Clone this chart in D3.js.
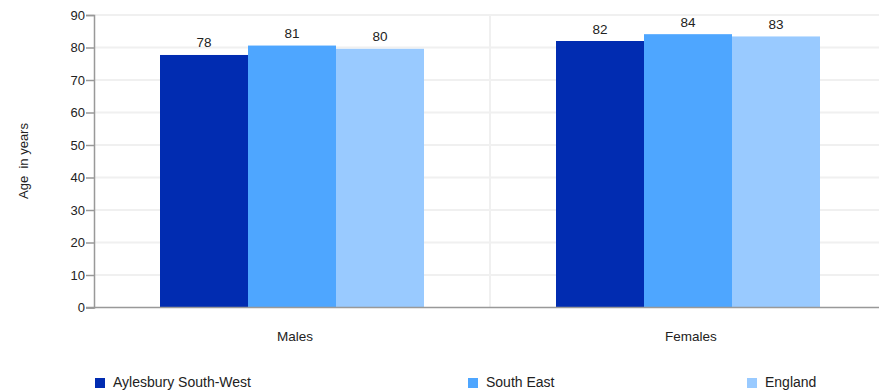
<!DOCTYPE html>
<html><head><meta charset="utf-8">
<script src="https://cdn.jsdelivr.net/npm/d3@7"></script>
<style>body{margin:0;background:#fff;}svg{display:block;font-family:"Liberation Sans",Arial,sans-serif;}</style>
</head><body><svg id="c" width="879" height="392"></svg>
<script>
const categories = ["Males", "Females"];
const seriesNames = ["Aylesbury South-West", "South East", "England"];
const seriesColors = ["#012cb1", "#4ea6ff", "#99caff"];
const aylesbury = [77.7, 82.0];
const southEast = [80.6, 84.1];
const england = [79.6, 83.4];
const yTicks = [0, 10, 20, 30, 40, 50, 60, 70, 80, 90];
const yTitle = "Age  in years";

(function () {
const series = [aylesbury, southEast, england];
const svg = d3.select("#c");
const pL = 94, pR = 886, pT = 15, pB = 307.5;

const x = d3.scaleBand().domain(categories).range([pL, pR]);
const xs = d3.scaleBand().domain(seriesNames).range([0, x.bandwidth()]).paddingInner(0).paddingOuter(0.75);
const y = d3.scaleLinear().domain([0, 90]).range([pB, pT]);

// gridlines
svg.append("g").selectAll("line").data(yTicks.filter(d => d > 0)).join("line")
  .attr("x1", pL).attr("x2", pR).attr("y1", d => y(d)).attr("y2", d => y(d))
  .attr("stroke", "#f0f0f0").attr("stroke-width", 2);
svg.append("line").attr("x1", x("Females")).attr("x2", x("Females"))
  .attr("y1", pT).attr("y2", pB).attr("stroke", "#f0f0f0").attr("stroke-width", 2);

// bars
const data = [];
categories.forEach((c, i) => seriesNames.forEach((s, j) => data.push({c, s, v: series[j][i], col: seriesColors[j]})));
svg.append("g").selectAll("rect").data(data).join("rect")
  .attr("x", d => x(d.c) + xs(d.s)).attr("width", xs.bandwidth())
  .attr("y", d => y(d.v)).attr("height", d => y(0) - y(d.v)).attr("fill", d => d.col);
svg.append("g").selectAll("text").data(data).join("text")
  .attr("x", d => x(d.c) + xs(d.s) + xs.bandwidth() / 2).attr("y", d => y(d.v) - 7.5)
  .attr("text-anchor", "middle").attr("font-size", 13.5).attr("fill", "#222")
  .text(d => Math.round(d.v));

// y axis
const yAxis = d3.axisLeft(y).tickValues(yTicks).tickSize(8).tickPadding(1);
const ga = svg.append("g").attr("transform", `translate(${pL},0)`).call(yAxis);
ga.select(".domain").attr("stroke", "#999").attr("stroke-width", 1.5);
ga.selectAll(".tick line").attr("stroke", "#999").attr("stroke-width", 1.5);
ga.selectAll(".tick text").attr("font-size", 13).attr("fill", "#222").attr("font-family", "Liberation Sans, Arial, sans-serif");

// x axis baseline
svg.append("line").attr("x1", pL - 8).attr("x2", pR).attr("y1", pB).attr("y2", pB)
  .attr("stroke", "#999").attr("stroke-width", 1.5);
svg.append("g").selectAll("text").data(categories).join("text")
  .attr("x", d => x(d) + x.bandwidth() / 2 + 3).attr("y", 341)
  .attr("text-anchor", "middle").attr("font-size", 13.5).attr("fill", "#222").text(d => d);

// y title
svg.append("text").attr("transform", "translate(28,161) rotate(-90)")
  .attr("text-anchor", "middle").attr("font-size", 13).attr("fill", "#222")
  .style("white-space", "pre").text(yTitle);

// legend
const legX = [95, 468, 747];
const lg = svg.append("g").selectAll("g").data(seriesNames).join("g")
  .attr("transform", (d, i) => `translate(${legX[i]},378)`);
lg.append("rect").attr("width", 10).attr("height", 10).attr("fill", (d, i) => seriesColors[i]);
lg.append("text").attr("x", 18).attr("y", 9).attr("font-size", 14).attr("fill", "#222").text(d => d);
})();
</script></body></html>
